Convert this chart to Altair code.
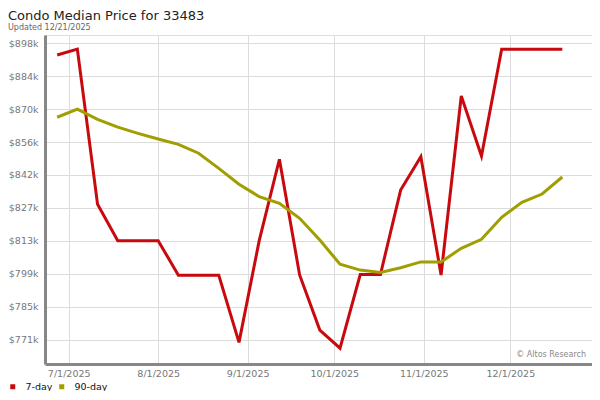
import altair as alt
import pandas as pd

# ---- data ----
dates = ["2025-06-27", "2025-07-04", "2025-07-11", "2025-07-18", "2025-07-25",
         "2025-08-01", "2025-08-08", "2025-08-15", "2025-08-22", "2025-08-29",
         "2025-09-05", "2025-09-12", "2025-09-19", "2025-09-26", "2025-10-03",
         "2025-10-10", "2025-10-17", "2025-10-24", "2025-10-31", "2025-11-07",
         "2025-11-14", "2025-11-21", "2025-11-28", "2025-12-05", "2025-12-12",
         "2025-12-19"]

seven_day = [893000, 895500, 829000, 813400, 813400, 813400, 798600, 798600,
             798600, 769800, 813400, 848300, 798700, 775100, 767300, 798900,
             798900, 835100, 849400, 798700, 875400, 849700, 895500, 895500,
             895500, 895500]

ninety_day = [866300, 869800, 865400, 862100, 859400, 857000, 854700, 850900,
              844400, 837600, 832300, 829400, 823000, 813700, 803300, 800800,
              799800, 801800, 804300, 804300, 810100, 814000, 823400, 829800,
              833400, 840700]

series_names = ["7-day", "90-day"]
series_colors = ["#c80a0f", "#a09e00"]

y_ticks = [771000, 785111, 799222, 813333, 827444, 841556, 855667, 869778,
           883889, 898000]
x_tick_months = [7, 8, 9, 10, 11, 12]

title_text = "Condo Median Price for 33483"
subtitle_text = "Updated 12/21/2025"
credit_text = "\u00a9 Altos Research"

# ---- build table ----
rows = []
for d, v in zip(dates, seven_day):
    rows.append({"date": d + "T00:00:00", "value": v, "series": series_names[0]})
for d, v in zip(dates, ninety_day):
    rows.append({"date": d + "T00:00:00", "value": v, "series": series_names[1]})
df = pd.DataFrame(rows)

FONT = "DejaVu Sans"

x_enc = alt.X(
    "date:T",
    scale=alt.Scale(domain=[alt.DateTime(year=2025, month=6, date=22, hours=19),
                            alt.DateTime(year=2025, month=12, date=29, hours=7)],
                    nice=False),
    axis=alt.Axis(
        values=[alt.DateTime(year=2025, month=m, date=1) for m in x_tick_months],
        format="%-m/%-d/%Y", title=None, grid=True, gridColor="#dcdcdc",
        gridWidth=1, ticks=False, domainColor="#878787", domainWidth=3,
        labelColor="#777777", labelFontSize=9.5, labelFont=FONT,
        labelPadding=4, labelFlush=False, labelOverlap=False,
    ),
)

y_enc = alt.Y(
    "value:Q",
    scale=alt.Scale(domain=[760540, 901560], nice=False, zero=False),
    axis=alt.Axis(
        values=y_ticks,
        labelExpr="'$' + format(datum.value / 1000, '.0f') + 'k'",
        title=None, grid=True, gridColor="#dcdcdc", gridWidth=1, ticks=False,
        domainColor="#878787", domainWidth=3, labelColor="#777777",
        labelFontSize=9.5, labelFont=FONT, labelPadding=7, labelOverlap=False,
    ),
)

lines = alt.Chart(df).mark_line(strokeWidth=3, strokeJoin="miter").encode(
    x=x_enc,
    y=y_enc,
    color=alt.Color(
        "series:N",
        scale=alt.Scale(domain=series_names, range=series_colors),
        legend=alt.Legend(
            title=None, orient="none", legendX=-37, legendY=347,
            direction="horizontal", symbolType="square", symbolSize=6.25,
            symbolStrokeWidth=2.5, labelFontSize=9.5, labelFont=FONT,
            labelColor="#111111", labelOffset=8, columnPadding=2, padding=0,
        ),
    ),
    order=alt.Order("date:T"),
)

title_layer = alt.Chart(pd.DataFrame({"t": [title_text]})).mark_text(
    align="left", baseline="alphabetic", fontSize=13, font=FONT, color="#222222"
).encode(x=alt.value(-37), y=alt.value(-15.3), text="t:N")

subtitle_layer = alt.Chart(pd.DataFrame({"t": [subtitle_text]})).mark_text(
    align="left", baseline="alphabetic", fontSize=8, font=FONT, color="#666666"
).encode(x=alt.value(-37), y=alt.value(-5), text="t:N")

credit_layer = alt.Chart(pd.DataFrame({"t": [credit_text]})).mark_text(
    align="right", baseline="alphabetic", fontSize=8, font=FONT, color="#888888"
).encode(x=alt.value(541), y=alt.value(322), text="t:N")

chart = alt.layer(lines, title_layer, subtitle_layer, credit_layer).properties(
    width=547,
    height=329,
    autosize=alt.AutoSizeParams(type="none"),
    padding={"left": 37, "top": 27, "right": 0, "bottom": 27},
).configure_view(stroke="#d6d6d6", strokeWidth=1).configure(font=FONT)

chart.save("out.html", embed_options={"renderer": "svg", "actions": False})
